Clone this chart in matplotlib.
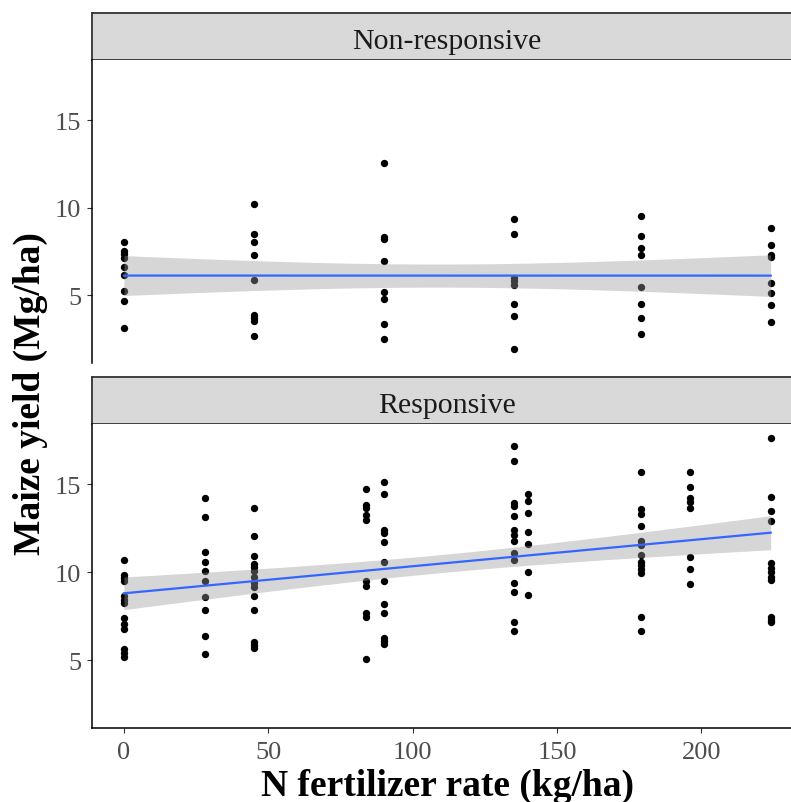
import numpy as np
import matplotlib
matplotlib.use("Agg")
import matplotlib.pyplot as plt

# ---------------- data ----------------
panel_names = ["Non-responsive", "Responsive"]

nonresp_rate = ([0] * 9 + [45] * 9 + [90] * 8 + [135] * 8 + [179] * 8 + [224] * 8)
nonresp_yield = [
    8.04, 7.53, 7.34, 7.15, 6.59, 6.17, 5.26, 4.70, 3.13,
    10.18, 8.52, 8.04, 7.29, 5.89, 3.85, 3.70, 3.54, 2.67,
    12.56, 8.31, 8.19, 6.93, 5.17, 4.79, 3.34, 2.49,
    9.33, 8.50, 5.98, 5.79, 5.60, 4.51, 3.79, 1.92,
    9.52, 8.40, 7.68, 7.31, 5.45, 4.51, 3.70, 2.77,
    8.86, 7.84, 7.31, 7.21, 5.70, 5.13, 4.43, 3.49,
]

resp_rate = ([0] * 13 + [28] * 10 + [45] * 14 + [84] * 10 + [90] * 12 +
             [135] * 14 + [140] * 7 + [179] * 13 + [196] * 8 + [224] * 12)
resp_yield = [
    10.71, 9.86, 9.67, 9.48, 8.63, 8.45, 8.26, 7.41, 7.07, 6.75, 5.62, 5.43, 5.19,
    14.23, 13.12, 11.18, 10.61, 10.05, 9.52, 8.60, 7.84, 6.37, 5.34,
    13.66, 12.08, 10.93, 10.46, 10.29, 10.05, 9.76, 9.39, 9.14, 8.67, 7.84, 6.05, 5.85, 5.72,
    14.76, 13.85, 13.66, 13.25, 12.97, 9.48, 9.24, 7.66, 7.47, 5.09,
    15.13, 14.47, 12.40, 12.21, 11.70, 10.57, 9.48, 8.22, 7.66, 6.28, 6.09, 5.90,
    17.17, 16.32, 13.91, 13.78, 13.19, 12.40, 12.12, 11.78, 11.08, 10.71, 9.39, 8.86, 7.18, 6.66,
    14.42, 14.04, 13.38, 12.27, 11.59, 10.01, 8.69,
    15.70, 13.59, 13.34, 12.65, 11.78, 11.55, 10.99, 10.61, 10.42, 10.20, 9.95, 7.47, 6.66,
    15.70, 14.85, 14.23, 14.00, 13.66, 10.89, 10.20, 9.33,
    17.64, 14.28, 13.47, 12.93, 10.52, 10.27, 10.01, 9.71, 9.58, 7.47, 7.28, 7.18,
]

x_ticks = [0, 50, 100, 150, 200]
y_ticks = [5, 10, 15]
x_title = "N fertilizer rate (kg/ha)"
y_title = "Maize yield (Mg/ha)"

# ---------------- helpers ----------------
def norm_quantile(p):
    # Acklam's rational approximation
    a = [-3.969683028665376e+01, 2.209460984245205e+02, -2.759285104469687e+02,
         1.383577518672690e+02, -3.066479806614716e+01, 2.506628277459239e+00]
    b = [-5.447609879822406e+01, 1.615858368580409e+02, -1.556989798598866e+02,
         6.680131188771972e+01, -1.328068155288572e+01]
    c = [-7.784894002430293e-03, -3.223964580411365e-01, -2.400758277161838e+00,
         -2.549732539343734e+00, 4.374664141464968e+00, 2.938163982698783e+00]
    d = [7.784695709041462e-03, 3.224671290700398e-01, 2.445134137142996e+00,
         3.754408661907416e+00]
    plow = 0.02425
    if plow <= p <= 1 - plow:
        q = p - 0.5
        r = q * q
        return (((((a[0]*r+a[1])*r+a[2])*r+a[3])*r+a[4])*r+a[5])*q / \
               (((((b[0]*r+b[1])*r+b[2])*r+b[3])*r+b[4])*r+1)
    if p < plow:
        q = np.sqrt(-2 * np.log(p))
        return (((((c[0]*q+c[1])*q+c[2])*q+c[3])*q+c[4])*q+c[5]) / \
               ((((d[0]*q+d[1])*q+d[2])*q+d[3])*q+1)
    q = np.sqrt(-2 * np.log(1 - p))
    return -(((((c[0]*q+c[1])*q+c[2])*q+c[3])*q+c[4])*q+c[5]) / \
           ((((d[0]*q+d[1])*q+d[2])*q+d[3])*q+1)


def t_quantile(p, df):
    z = norm_quantile(p)
    g1 = (z**3 + z) / 4
    g2 = (5*z**5 + 16*z**3 + 3*z) / 96
    g3 = (3*z**7 + 19*z**5 + 17*z**3 - 15*z) / 384
    return z + g1/df + g2/df**2 + g3/df**3


def lm_fit(x, y, xs):
    x = np.asarray(x, float)
    y = np.asarray(y, float)
    n = len(x)
    X = np.column_stack([np.ones(n), x])
    beta, *_ = np.linalg.lstsq(X, y, rcond=None)
    resid = y - X @ beta
    s2 = resid @ resid / (n - 2)
    XtXi = np.linalg.inv(X.T @ X)
    Xs = np.column_stack([np.ones(len(xs)), xs])
    fit = Xs @ beta
    se = np.sqrt(np.einsum("ij,jk,ik->i", Xs, XtXi, Xs) * s2)
    t = t_quantile(0.975, n - 2)
    return fit, fit - t * se, fit + t * se


# ---------------- figure ----------------
W, H = 791, 803
fig = plt.figure(figsize=(W / 100, H / 100), dpi=100)
serif = ["Liberation Serif", "DejaVu Serif"]

all_x = np.array(nonresp_rate + resp_rate, float)
all_y = np.array(nonresp_yield + resp_yield, float)
xr = all_x.max() - all_x.min()
yr = all_y.max() - all_y.min()
xlim = (all_x.min() - 0.05 * xr, all_x.max() + 0.05 * xr)
ylim = (all_y.min() - 0.05 * yr, all_y.max() + 0.05 * yr)

left_px, right_px = 91.6, 803.0
layout = [  # (strip top, strip bottom / panel top, panel bottom) in px from top
    (14.0, 61.0, 364.0),
    (377.7, 425.0, 729.3),
]
datasets = [(nonresp_rate, nonresp_yield), (resp_rate, resp_yield)]

for i, (name, (st, pt, pb), (xd, yd)) in enumerate(zip(panel_names, layout, datasets)):
    L = left_px / W
    Wd = (right_px - left_px) / W
    # strip
    sax = fig.add_axes([L, 1 - pt / H, Wd, (pt - st) / H])
    sax.set_facecolor("#D9D9D9")
    sax.set_xticks([]); sax.set_yticks([])
    for sp in sax.spines.values():
        sp.set_color("#333333"); sp.set_linewidth(1.3)
    sax.text((447 - left_px) / (right_px - left_px), 0.40, name, transform=sax.transAxes,
             ha="center", va="center", fontsize=21.5, color="#1A1A1A", family=serif)

    ax = fig.add_axes([L, 1 - pb / H, Wd, (pb - pt) / H])
    ax.scatter(xd, yd, s=28, color="black", linewidths=0, zorder=2)
    xs = np.linspace(min(xd), max(xd), 80)
    fit, lo, hi = lm_fit(xd, yd, xs)
    ax.fill_between(xs, lo, hi, color="#999999", alpha=0.4, linewidth=0, zorder=3)
    ax.plot(xs, fit, color="#3366FF", lw=1.6, zorder=4)

    ax.set_xlim(xlim); ax.set_ylim(ylim)
    ax.set_yticks(y_ticks)
    ax.set_xticks(x_ticks)
    ax.spines["top"].set_visible(False)
    ax.spines["right"].set_visible(False)
    ax.spines["left"].set_linewidth(1.1)
    ax.spines["bottom"].set_linewidth(1.1)
    ax.tick_params(axis="both", length=3.5, width=0.8, color="#333333",
                   labelcolor="#4D4D4D", labelsize=19, pad=4)
    ax.tick_params(axis="x", pad=6)
    for lab in ax.get_xticklabels() + ax.get_yticklabels():
        lab.set_family(serif)
    if i == 0:
        ax.spines["bottom"].set_visible(False)
        ax.tick_params(axis="x", bottom=False, labelbottom=False)

fig.text(447 / W, 1 - 786 / H, x_title, ha="center", va="center",
         fontsize=27, fontweight="bold", family=serif)
fig.text(30 / W, 1 - 394 / H, y_title, rotation=90, ha="center", va="center",
         fontsize=27, fontweight="bold", family=serif)

fig.savefig("out.png", dpi=100)
